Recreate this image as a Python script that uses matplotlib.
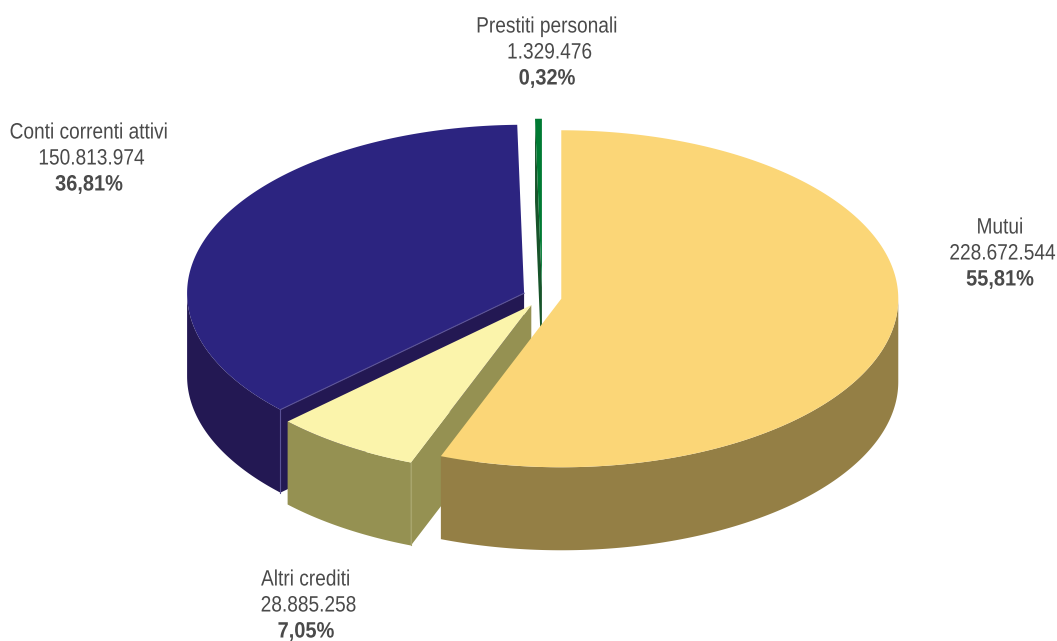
import numpy as np
import matplotlib.pyplot as plt
import matplotlib.patheffects as pe
from matplotlib.patches import Polygon
from matplotlib.transforms import Affine2D

# Dati
categorie = ['Mutui', 'Altri crediti', 'Conti correnti attivi', 'Prestiti personali']
valori = [228672544, 28885258, 150813974, 1329476]
col_top = ['#FBD677', '#FBF4AB', '#2C2480', '#007A33']
col_side = ['#947F45', '#959152', '#231853', '#17542A']
col_seam = ['#947F45', '#A8A56C', '#5A5296', '#17542A']

# Geometria della torta in prospettiva
cx, cy = 542.1, 297
rx, ry = 337, 168.5
depth = 83
explode = 19.5

# Posizione delle etichette (centro della prima riga) e scarto in pixel del testo stretto
pos_label = [(993, 228), (306, 580), (95, 133), (547, 27)]
scarto = [7, 0, -6, 0]
interlinea = 26

plt.rcParams['font.family'] = ['Liberation Sans', 'DejaVu Sans']


class Narrow(pe.AbstractPathEffect):
    # Stringe il testo in orizzontale attorno al suo centro e lo sposta di dx pixel
    def __init__(self, fattore, dx=0):
        super().__init__()
        self.fattore = fattore
        self.dx = dx

    def draw_path(self, renderer, gc, tpath, affine, rgbFace=None):
        box = tpath.get_extents()
        xc = (box.x0 + box.x1) / 2
        squeeze = Affine2D().translate(-xc, 0).scale(self.fattore, 1).translate(xc, 0)
        renderer.draw_path(gc, tpath, squeeze + affine + Affine2D().translate(self.dx, 0), rgbFace)


fig = plt.figure(figsize=(10.57, 6.41), dpi=100)
ax = fig.add_axes([0, 0, 1, 1])
ax.set_xlim(0, 1057)
ax.set_ylim(641, 0)
ax.axis('off')


def rim(x0, y0, a0, a1):
    # Punti sul bordo dell'ellisse; angoli in senso orario dalle ore 12
    t = np.radians(np.linspace(a0, a1, 200))
    return np.column_stack([x0 + rx * np.sin(t), y0 - ry * np.cos(t)])


def draw_slice(i, a0, a1):
    mid = np.radians((a0 + a1) / 2)
    x0 = cx + explode * np.sin(mid)
    y0 = cy - explode * 0.5 * np.cos(mid)
    apex = np.array([x0, y0])
    down = np.array([0, depth])
    corner = rim(x0, y0, a0, a0)[0]
    z = ordine[i]

    # Parete radiale sul lato iniziale della fetta
    if a0 > 180:
        wall = [apex, corner, corner + down, apex + down]
        ax.add_patch(Polygon(wall, closed=True, fc=col_side[i], ec='none', zorder=z))

    # Parete esterna, solo la parte davanti
    f0, f1 = max(a0, 90), min(a1, 270)
    if f1 > f0:
        front = rim(x0, y0, f0, f1)
        outer = np.vstack([front, front[::-1] + down])
        ax.add_patch(Polygon(outer, closed=True, fc=col_side[i], ec='none', zorder=z + 0.1))

    # Spigoli chiari tra le pareti
    if i in (1, 2):
        ax.plot([corner[0], corner[0]], [corner[1], corner[1] + depth],
                color=col_seam[i], lw=0.8, zorder=z + 0.2)

    # Faccia superiore
    top = np.vstack([apex, rim(x0, y0, a0, a1)])
    ax.add_patch(Polygon(top, closed=True, fc=col_top[i], ec='none', zorder=z + 0.3))

    if i == 2:
        ax.plot([apex[0], corner[0]], [apex[1], corner[1]], color=col_seam[i], lw=0.8, zorder=z + 0.4)


# Ordine di disegno: dal fondo verso l'osservatore
ordine = {3: 1, 2: 2, 1: 3, 0: 4}
angoli = np.cumsum([0] + valori) / sum(valori) * 360
for i in range(len(valori)):
    draw_slice(i, angoli[i], angoli[i + 1])

# Etichette
totale = sum(valori)
for nome, val, (x, y), dx in zip(categorie, valori, pos_label, scarto):
    perc = f'{val / totale * 100:.2f}%'.replace('.', ',')
    num = f'{val:,}'.replace(',', '.')
    for k, riga in enumerate([nome, num, perc]):
        grassetto = k == 2
        # le cifre stanno circa 2.5 pixel a destra del centro
        extra = 2.5 if k == 1 else 0
        ax.text(x, y + k * interlinea, riga, ha='center', va='center', fontsize=16,
                fontweight='bold' if grassetto else 'normal', color='#4A4A4A', zorder=10,
                path_effects=[Narrow(0.9 if grassetto else 0.86, dx + extra)])

fig.savefig('out.png', dpi=100)
